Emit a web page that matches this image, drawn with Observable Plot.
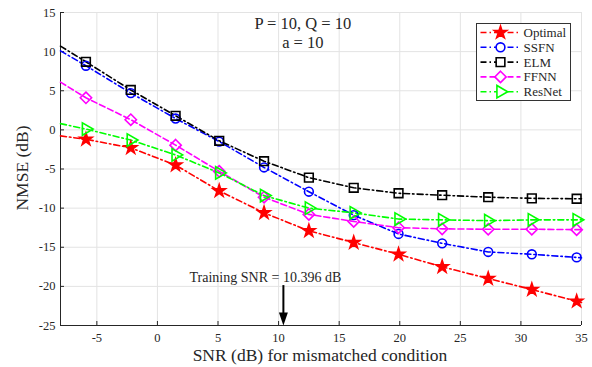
<!DOCTYPE html>
<html><head><meta charset="utf-8">
<script src="https://cdn.jsdelivr.net/npm/d3@7"></script>
<script src="https://cdn.jsdelivr.net/npm/@observablehq/plot@0.6"></script>
<style>
body{margin:0;background:#fff;}
#chart{width:592px;height:367px;}
</style></head>
<body><div id="chart"></div>
<script>
// ---- data ----
const seriesNames = ["Optimal", "SSFN", "ELM", "FFNN", "ResNet"];
const snrMarkers = [-5.9, -2.2, 1.5, 5.1, 8.8, 12.5, 16.2, 19.9, 23.5, 27.3, 30.9, 34.6];
const optimal = [-1.2, -2.3, -4.5, -7.8, -10.6, -12.9, -14.4, -15.9, -17.5, -19.0, -20.4, -21.9];
const ssfn    = [8.2, 4.7, 1.45, -1.5, -4.8, -7.9, -10.9, -13.3, -14.5, -15.6, -15.9, -16.3];
const elm     = [8.7, 5.1, 1.8, -1.4, -4.0, -6.1, -7.4, -8.1, -8.35, -8.6, -8.75, -8.8];
const ffnn    = [4.1, 1.3, -1.95, -5.3, -8.6, -10.8, -11.7, -12.5, -12.65, -12.7, -12.7, -12.75];
const resnet  = [0.1, -1.3, -3.2, -5.5, -8.4, -10.0, -10.6, -11.4, -11.5, -11.6, -11.5, -11.5];
const snrEdges = [-8, 35];
const edgeStart = [-0.77, 10.1, 10.7, 6.1, 0.8];
const edgeEnd   = [-22.05, -16.35, -8.8, -12.75, -11.5];
const xTicks = [-5, 0, 5, 10, 15, 20, 25, 30, 35];
const yTicks = [-25, -20, -15, -10, -5, 0, 5, 10, 15];
const xDomain = [-8, 35];
const yDomain = [-25, 15];
const trainingSNR = 10.396;
const arrowFromY = -19.9;
const annotationY = -18.9;
const titleLines = ["P = 10, Q = 10", "a = 10"];
const titleX = 12;
const titleY = [13.6, 11.1];

// ---- styles ----
const colors = ["#ff0000", "#0000ff", "#000000", "#ff00ff", "#00ff00"];
const dashes = ["6,3,1.5,3", "6,3,1.5,3", "6,3,1.5,3", "6,3", "6,3,1.5,3"];
const symbols = ["star", "circle", "square", "diamond2", "triangle"];
const radii = [3.9, 4.4, 4.9, 5.1, 4.6];
const fills = [true, false, false, false, false];
const rotates = [0, 0, 0, 0, 90];

const allY = [optimal, ssfn, elm, ffnn, resnet];
const lineRows = [];
const markerRows = [];
seriesNames.forEach((s, i) => {
  lineRows.push({snr: snrEdges[0], nmse: edgeStart[i], series: s});
  snrMarkers.forEach((x, j) => {
    lineRows.push({snr: x, nmse: allY[i][j], series: s});
    markerRows.push({snr: x, nmse: allY[i][j], series: s});
  });
  lineRows.push({snr: snrEdges[1], nmse: edgeEnd[i], series: s});
});

const arrowHead = {draw(ctx, size) { ctx.moveTo(0, 0); ctx.lineTo(-4.5, -13); ctx.lineTo(4.5, -13); ctx.closePath(); }};
const font = '"Liberation Serif"';

const marks = [
  Plot.gridX(xTicks, {stroke: "#e3e3e3", strokeOpacity: 1}),
  Plot.gridY(yTicks, {stroke: "#e3e3e3", strokeOpacity: 1}),
  Plot.axisX({ticks: xTicks, tickSize: -4, tickPadding: 12, tickFormat: d => String(d), fontSize: 12.5, color: "#262626", label: null}),
  Plot.axisY({ticks: yTicks, tickSize: -4, tickPadding: 9, tickFormat: d => String(d), fontSize: 12.5, color: "#262626", label: null}),
  Plot.ruleY([yDomain[0]], {stroke: "#262626", strokeWidth: 1}),
  Plot.ruleX([xDomain[0]], {stroke: "#262626", strokeWidth: 1}),
];
seriesNames.forEach((s, i) => {
  marks.push(Plot.line(lineRows.filter(d => d.series === s), {x: "snr", y: "nmse", stroke: colors[i], strokeWidth: 1.6, strokeDasharray: dashes[i]}));
});
seriesNames.forEach((s, i) => {
  marks.push(Plot.dot(markerRows.filter(d => d.series === s), {
    x: "snr", y: "nmse", symbol: symbols[i], r: radii[i], rotate: rotates[i],
    stroke: colors[i], strokeWidth: 1.6, fill: fills[i] ? colors[i] : "white", fillOpacity: fills[i] ? 1 : 0
  }));
});
marks.push(
  Plot.ruleX([trainingSNR], {y1: arrowFromY, y2: yDomain[0] + 1.3, stroke: "black", strokeWidth: 2}),
  Plot.dot([trainingSNR], {x: d => d, y: () => yDomain[0], symbol: arrowHead, r: 5, fill: "black", stroke: "none"}),
  Plot.text([`Training SNR = ${trainingSNR} dB`], {x: () => trainingSNR, y: () => annotationY, dx: -18, text: d => d, fontSize: 14, fill: "#262626"}),
  Plot.text(titleLines, {x: () => titleX, y: (d, i) => titleY[i], text: d => d, fontSize: 16.5, fill: "#262626"})
);

const plot = Plot.plot({
  width: 592, height: 367,
  marginLeft: 60, marginRight: 11, marginTop: 12, marginBottom: 42,
  x: {domain: xDomain},
  y: {domain: yDomain},
  style: {background: "white"},
  marks
});

const svg = d3.select(plot);
svg.append("text").attr("x", 320).attr("y", 361).attr("text-anchor", "middle")
  .attr("font-size", 17.5).attr("fill", "#262626")
  .text("SNR (dB) for mismatched condition");
svg.append("text").attr("transform", "translate(28,168) rotate(-90)").attr("text-anchor", "middle")
  .attr("font-size", 17.5).attr("fill", "#262626")
  .text("NMSE (dB)");

const lg = svg.append("g").attr("transform", "translate(476.5,23.5)");
lg.append("rect").attr("width", 94).attr("height", 77).attr("fill", "white").attr("stroke", "#333").attr("stroke-width", 1);
const symMap = {star: d3.symbolStar, circle: d3.symbolCircle, square: d3.symbolSquare, diamond2: d3.symbolDiamond2, triangle: d3.symbolTriangle};
seriesNames.forEach((s, i) => {
  const y = 9 + i * 14.8;
  const g = lg.append("g").attr("transform", `translate(0,${y})`);
  g.append("line").attr("x1", 4).attr("x2", 44).attr("y1", 0).attr("y2", 0)
    .attr("stroke", colors[i]).attr("stroke-width", 1.6).attr("stroke-dasharray", dashes[i]);
  g.append("path").attr("d", d3.symbol(symMap[symbols[i]], Math.PI * radii[i] * radii[i])())
    .attr("transform", `translate(24,0) rotate(${rotates[i]})`)
    .attr("fill", fills[i] ? colors[i] : "white").attr("stroke", colors[i]).attr("stroke-width", 1.6);
  g.append("text").attr("x", 47).attr("y", 0).attr("dy", "0.35em").attr("font-size", 13)
    .attr("text-anchor", "start").attr("fill", "#262626").text(s);
});

svg.style("font-family", font);
svg.selectAll("text").style("font-family", font);

document.getElementById("chart").appendChild(plot);
</script>
</body></html>
